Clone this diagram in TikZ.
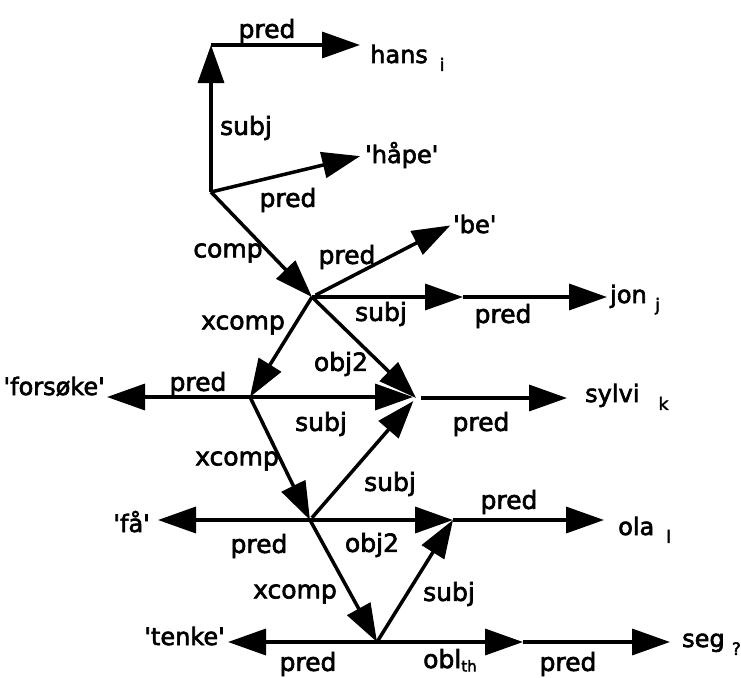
\documentclass[tikz,border=0pt]{standalone}
\usepackage{fontspec}
\setmainfont{DejaVu Sans}[FakeBold=2.5]
\usetikzlibrary{arrows.meta}
\newcommand\q{\textquotesingle}
\newcommand\subidx[2][0.5em]{\hspace{#1}\raisebox{-0.6ex}{\fontsize{17}{17}\selectfont #2}}
\begin{document}
\begin{tikzpicture}[x=1pt,y=-1pt,
  edge/.style={line width=3.5pt,-{Triangle[length=38pt,width=26pt]}},
  lbl/.style={font=\fontsize{25}{25}\selectfont,inner sep=0pt},
  word/.style={font=\fontsize{24}{24}\selectfont,inner sep=0pt}]
\useasboundingbox (0,0) rectangle (741,677);

% f-structure points
\coordinate (A) at (211,192);
\coordinate (T) at (211,45);
\coordinate (B) at (312,297);
\coordinate (Bm) at (463,297);
\coordinate (C) at (250,397);
\coordinate (D) at (416,398);
\coordinate (E) at (310,520);
\coordinate (F) at (453,520);
\coordinate (G) at (377,642);
\coordinate (Gm) at (523,642);

% predicate values
\node[word,anchor=base west] (hans) at (370,63) {hans\subidx[0.5em]{i}};
\node[word,anchor=base west] (hape) at (365,163) {\q håpe\q};
\node[word,anchor=base west] (be) at (453,233) {\q be\q};
\node[word,anchor=base west] (jon) at (610,303) {jon\subidx[0.35em]{j}};
\node[word,anchor=base west] (sylvi) at (585,402) {sylvi\subidx[0.8em]{k}};
\node[word,anchor=base east] (forsoke) at (105,395) {\q forsøke\q};
\node[word,anchor=base east] (fa) at (150,532) {\q få\q};
\node[word,anchor=base west] (ola) at (618,535) {ola\subidx[0.5em]{l}};
\node[word,anchor=base east] (tenke) at (225,645) {\q tenke\q};
\node[word,anchor=base west] (seg) at (682,647) {seg\subidx[0.3em]{?}};

% attribute arcs
\draw[edge] (A) -- (T);
\draw[edge,shorten >=10pt] (T) -- (T -| hans.west);
\draw[edge,shorten >=5pt] (A) -- (hape.west);
\draw[edge] (A) -- (B);
\draw[edge,shorten <=4pt,shorten >=3pt] (B) -- (be.west);
\draw[edge] (B) -- (Bm);
\draw[edge,shorten >=3pt] (Bm) -- (Bm -| jon.west);
\draw[edge] (B) -- (C);
\draw[edge] (B) -- (D);
\draw[edge,shorten >=2pt] (C) -- (C -| forsoke.east);
\draw[edge,shorten >=3pt] (C) -- (C -| D);
\draw[edge,shorten <=5pt,shorten >=18pt] (D) -- (D -| sylvi.west);
\draw[edge] (C) -- (E);
\draw[edge,shorten <=3pt,shorten >=4pt] (E) -- (D);
\draw[edge,shorten >=8pt] (E) -- (E -| fa.east);
\draw[edge] (E) -- (F);
\draw[edge,shorten >=14pt] (F) -- (F -| ola.west);
\draw[edge] (E) -- (G);
\draw[edge] (G) -- (F);
\draw[edge,shorten >=3pt] (G) -- (G -| tenke.east);
\draw[edge] (G) -- (Gm);
\draw[edge,shorten >=12pt] (Gm) -- (Gm -| seg.west);

% arc labels
\node[lbl] (l1) at (267,31) {pred};
\node[lbl] (l2) at (246,128) {subj};
\node[lbl] (l3) at (288,200) {pred};
\node[lbl] (l4) at (228,253) {comp};
\node[lbl] (l5) at (347,257) {pred};
\node[lbl] (l6) at (381,314) {subj};
\node[lbl] (l7) at (503,316) {pred};
\node[lbl] (l8) at (243,325) {xcomp};
\node[lbl] (l9) at (341,364) {obj2};
\node[lbl] (l10) at (198,384) {pred};
\node[lbl] (l11) at (321,424) {subj};
\node[lbl] (l12) at (481,424) {pred};
\node[lbl] (l13) at (237,461) {xcomp};
\node[lbl] (l14) at (390,484) {subj};
\node[lbl] (l15) at (509,502) {pred};
\node[lbl] (l16) at (259,546) {pred};
\node[lbl] (l17) at (372,545) {obj2};
\node[lbl] (l18) at (295,594) {xcomp};
\node[lbl] (l19) at (449,594) {subj};
\node[lbl] (l20) at (308,664) {pred};
\node[lbl,anchor=base west] (l21) at (423,668) {obl\raisebox{-0.25ex}{\fontsize{15}{15}\selectfont th}};
\node[lbl] (l22) at (568,664) {pred};
\end{tikzpicture}
\end{document}
